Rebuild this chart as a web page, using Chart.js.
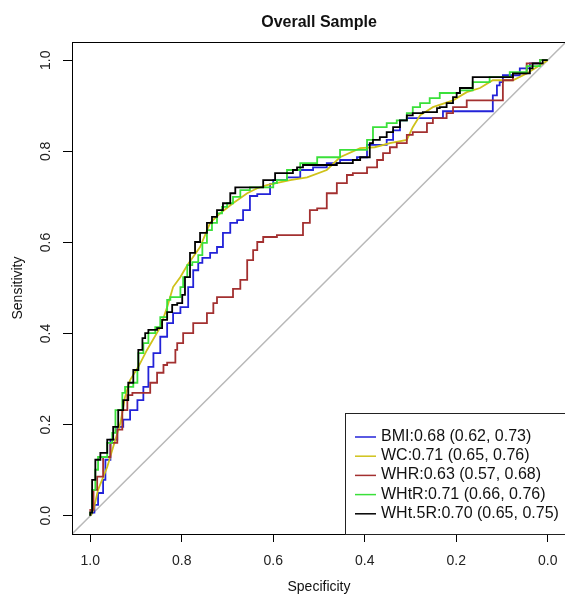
<!DOCTYPE html>
<html>
<head>
<meta charset="utf-8">
<script src="https://cdn.jsdelivr.net/npm/chart.js@4/dist/chart.umd.min.js"></script>
<style>
    html, body { margin: 0; padding: 0; background: #fff; overflow: hidden; }
    canvas { display: block; }
</style>
</head>
<body>
<canvas id="chartRoc" width="572" height="597"></canvas>
<script>
// DATI (specificity, sensitivity) ---------------------------------------------
const xTicks = [1.0, 0.8, 0.6, 0.4, 0.2, 0.0];
const yTicks = [0.0, 0.2, 0.4, 0.6, 0.8, 1.0];

const labels = [
    "BMI:0.68 (0.62, 0.73)",
    "WC:0.71 (0.65, 0.76)",
    "WHR:0.63 (0.57, 0.68)",
    "WHtR:0.71 (0.66, 0.76)",
    "WHt.5R:0.70 (0.65, 0.75)"
];

const bmiSpec = [1.0,0.991,0.983,0.972,0.967,0.956,0.941,0.928,0.913,0.897,0.884,0.873,0.862,0.847,0.832,0.819,0.803,0.786,0.775,0.764,0.755,0.738,0.723,0.710,0.694,0.679,0.666,0.651,0.635,0.607,0.600,0.570,0.541,0.513,0.483,0.454,0.417,0.395,0.382,0.352,0.338,0.323,0.308,0.279,0.229,0.207,0.120,0.111,0.105,0.098,0.061,0.039,0.017,0.0];
const bmiSens = [0.0,0.007,0.024,0.050,0.079,0.123,0.167,0.195,0.211,0.232,0.254,0.283,0.327,0.357,0.393,0.423,0.445,0.458,0.502,0.539,0.555,0.566,0.577,0.590,0.621,0.643,0.649,0.671,0.702,0.706,0.728,0.737,0.743,0.759,0.765,0.774,0.781,0.787,0.814,0.814,0.825,0.846,0.868,0.873,0.873,0.888,0.888,0.923,0.945,0.952,0.967,0.982,0.993,1.0];

const wcSpec = [1.0,0.993,0.983,0.963,0.950,0.934,0.924,0.913,0.895,0.876,0.847,0.832,0.819,0.803,0.788,0.760,0.738,0.716,0.688,0.657,0.635,0.614,0.563,0.526,0.483,0.454,0.410,0.378,0.345,0.308,0.295,0.279,0.251,0.207,0.177,0.148,0.120,0.076,0.046,0.017,0.0];
const wcSens = [0.0,0.013,0.057,0.107,0.151,0.204,0.261,0.298,0.327,0.364,0.414,0.458,0.502,0.524,0.550,0.590,0.643,0.664,0.686,0.708,0.719,0.726,0.737,0.743,0.759,0.787,0.807,0.809,0.818,0.825,0.853,0.879,0.897,0.912,0.930,0.939,0.956,0.956,0.971,0.989,1.0];

const whrSpec = [1.0,0.993,0.985,0.972,0.956,0.941,0.930,0.919,0.908,0.869,0.854,0.840,0.832,0.814,0.810,0.797,0.775,0.745,0.731,0.723,0.688,0.672,0.657,0.644,0.635,0.622,0.592,0.535,0.520,0.504,0.483,0.461,0.439,0.426,0.395,0.373,0.360,0.345,0.330,0.308,0.295,0.264,0.251,0.221,0.207,0.177,0.148,0.098,0.098,0.076,0.046,0.017,0.0];
const whrSens = [0.0,0.013,0.057,0.086,0.129,0.160,0.189,0.232,0.265,0.270,0.292,0.314,0.331,0.336,0.364,0.379,0.401,0.423,0.445,0.467,0.480,0.498,0.518,0.561,0.583,0.601,0.612,0.616,0.643,0.671,0.675,0.708,0.730,0.748,0.752,0.765,0.781,0.796,0.809,0.818,0.836,0.842,0.862,0.873,0.884,0.897,0.912,0.912,0.928,0.956,0.971,0.993,1.0];

const whtrSpec = [1.0,0.996,0.989,0.983,0.974,0.963,0.952,0.945,0.930,0.924,0.906,0.897,0.895,0.884,0.873,0.858,0.847,0.832,0.825,0.814,0.803,0.797,0.788,0.777,0.764,0.755,0.745,0.734,0.723,0.712,0.701,0.688,0.672,0.651,0.629,0.600,0.592,0.570,0.541,0.504,0.454,0.395,0.382,0.352,0.330,0.308,0.295,0.279,0.258,0.236,0.192,0.164,0.127,0.083,0.046,0.017,0.0];
const whtrSens = [0.0,0.007,0.057,0.101,0.129,0.129,0.160,0.182,0.232,0.270,0.283,0.292,0.320,0.357,0.379,0.401,0.414,0.436,0.474,0.480,0.480,0.502,0.524,0.550,0.557,0.572,0.599,0.627,0.643,0.664,0.678,0.686,0.700,0.715,0.721,0.721,0.730,0.737,0.759,0.774,0.787,0.803,0.825,0.853,0.862,0.868,0.884,0.897,0.906,0.917,0.928,0.934,0.952,0.963,0.974,0.987,1.0];

const wht5Spec = [1.0,0.996,0.989,0.978,0.963,0.950,0.939,0.928,0.917,0.906,0.895,0.886,0.880,0.873,0.854,0.843,0.832,0.821,0.810,0.799,0.793,0.782,0.771,0.760,0.745,0.734,0.723,0.710,0.694,0.683,0.672,0.622,0.596,0.596,0.557,0.548,0.535,0.513,0.461,0.426,0.410,0.389,0.382,0.367,0.352,0.338,0.323,0.308,0.295,0.273,0.242,0.236,0.221,0.207,0.199,0.192,0.164,0.133,0.076,0.061,0.039,0.033,0.011,0.0];
const wht5Sens = [0.0,0.007,0.079,0.123,0.138,0.167,0.195,0.232,0.254,0.292,0.320,0.364,0.390,0.401,0.408,0.412,0.430,0.447,0.463,0.467,0.485,0.524,0.577,0.601,0.621,0.643,0.656,0.671,0.686,0.708,0.721,0.721,0.737,0.748,0.752,0.759,0.765,0.770,0.770,0.774,0.781,0.787,0.818,0.825,0.831,0.842,0.853,0.868,0.879,0.884,0.886,0.895,0.897,0.906,0.919,0.928,0.939,0.963,0.963,0.971,0.971,0.982,0.993,1.0];

// diagonale di riferimento
const diagSpec = [1.04, -0.04];
const diagSens = [-0.04, 1.04];

const colors = ["#2323d8", "#cfc21a", "#a33030", "#3ae03a", "#000000"];

const FONT = "'Liberation Sans', Arial, sans-serif";

function pts(xs, ys) {
    return xs.map((x, i) => ({ x: x, y: ys[i] }));
}

// PLUGIN: riquadro + legenda stile R -------------------------------------------
const rBox = {
    id: "rBox",
    afterDatasetsDraw(chart) {
        const { ctx, chartArea: a } = chart;
        ctx.save();
        ctx.strokeStyle = "#000";
        ctx.lineWidth = 1;
        ctx.strokeRect(a.left + 0.5, a.top + 0.5, a.right - a.left, a.bottom - a.top);

        // legenda in basso a destra
        const lx = 345, ly = 413;
        ctx.fillStyle = "#fff";
        ctx.fillRect(lx, ly, a.right - lx, a.bottom - ly);
        ctx.strokeStyle = "#222";
        ctx.strokeRect(lx + 0.5, ly + 0.5, a.right - lx, a.bottom - ly);

        ctx.font = "16px " + FONT;
        ctx.textBaseline = "middle";
        ctx.textAlign = "left";
        chart.data.datasets.slice(0, 5).forEach((ds, i) => {
            const y = 436.5 + i * 19.2;
            ctx.strokeStyle = ds.borderColor;
            ctx.lineWidth = 1.5;
            ctx.beginPath();
            ctx.moveTo(355, y + 0.5);
            ctx.lineTo(376, y + 0.5);
            ctx.stroke();
            ctx.fillStyle = "#111";
            ctx.fillText(ds.label, 381, y);
        });
        ctx.restore();
    }
};

function series(i, xs, ys, stepped) {
    return {
        label: labels[i],
        data: pts(xs, ys),
        borderColor: colors[i],
        backgroundColor: "transparent",
        borderWidth: 1.8,
        pointRadius: 0,
        tension: 0,
        stepped: stepped,
        order: 4 - i
    };
}

function renderChart() {
    const ctx = document.getElementById("chartRoc").getContext("2d");

    new Chart(ctx, {
        type: "line",
        data: {
            datasets: [
                series(0, bmiSpec, bmiSens, "after"),
                series(1, wcSpec, wcSens, false),
                series(2, whrSpec, whrSens, "after"),
                series(3, whtrSpec, whtrSens, "after"),
                series(4, wht5Spec, wht5Sens, "after"),
                {
                    label: "diag",
                    data: pts(diagSpec, diagSens),
                    borderColor: "#b8b8b8",
                    borderWidth: 1.5,
                    pointRadius: 0,
                    order: 10
                }
            ]
        },
        options: {
            responsive: false,
            animation: false,
            layout: { padding: { top: 0, right: 6, bottom: 0, left: 0 } },
            plugins: {
                legend: { display: false },
                tooltip: { enabled: false },
                title: {
                    display: true,
                    fullSize: false,
                    text: "Overall Sample",
                    color: "#111",
                    font: { family: FONT, size: 16, weight: "bold" },
                    padding: { top: 13.4, bottom: 9.4 }
                }
            },
            scales: {
                x: {
                    type: "linear",
                    reverse: true,
                    min: -0.04,
                    max: 1.04,
                    afterBuildTicks: s => { s.ticks = xTicks.map(v => ({ value: v })); },
                    afterFit: s => { s.height = 63; },
                    grid: { drawOnChartArea: false, drawTicks: true, tickLength: 8, color: "#000" },
                    border: { display: true, color: "#000" },
                    ticks: {
                        color: "#222",
                        font: { family: FONT, size: 14 },
                        padding: 10.6,
                        maxRotation: 0,
                        callback: v => Number(v).toFixed(1)
                    },
                    title: {
                        display: true,
                        text: "Specificity",
                        color: "#111",
                        font: { family: FONT, size: 14 },
                        padding: { top: 0, bottom: 1.6 }
                    }
                },
                y: {
                    type: "linear",
                    min: -0.04,
                    max: 1.04,
                    afterBuildTicks: s => { s.ticks = yTicks.map(v => ({ value: v })); },
                    afterFit: s => { s.width = 72; },
                    grid: { drawOnChartArea: false, drawTicks: true, tickLength: 9, color: "#000" },
                    border: { display: true, color: "#000" },
                    ticks: {
                        color: "#222",
                        font: { family: FONT, size: 14 },
                        padding: 7,
                        minRotation: 90,
                        maxRotation: 90,
                        crossAlign: "center",
                        callback: v => Number(v).toFixed(1)
                    },
                    title: {
                        display: true,
                        text: "Sensitivity",
                        color: "#111",
                        font: { family: FONT, size: 14 },
                        padding: { top: 9.6, bottom: 0 }
                    }
                }
            }
        },
        plugins: [rBox]
    });
}

renderChart();
</script>
</body>
</html>
